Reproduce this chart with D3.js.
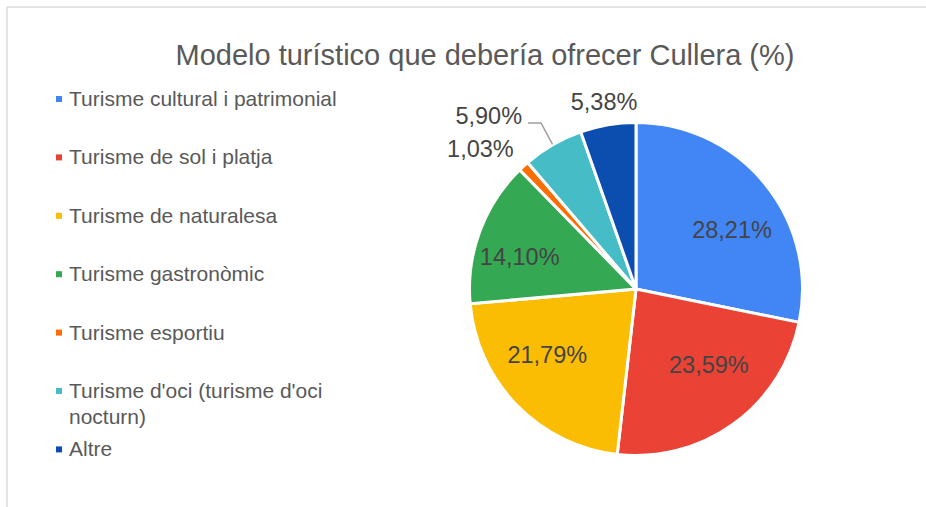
<!DOCTYPE html>
<html>
<head>
<meta charset="utf-8">
<script src="https://cdn.jsdelivr.net/npm/d3@7"></script>
<style>
  body { margin: 0; background: #fff; }
  text { font-family: Arial, "Liberation Sans", sans-serif; }
</style>
</head>
<body>
<div id="chart"></div>
<script>
// chart data
var categories = ["Turisme cultural i patrimonial", "Turisme de sol i platja", "Turisme de naturalesa",
  "Turisme gastronòmic", "Turisme esportiu", "Turisme d'oci (turisme d'oci nocturn)", "Altre"];
var values = [28.21, 23.59, 21.79, 14.10, 1.03, 5.90, 5.38];
var colors = ["#4285f4", "#ea4335", "#fbbc04", "#34a853", "#ff6d01", "#46bdc6", "#0c4db0"];
var title = "Modelo turístico que debería ofrecer Cullera (%)";

var width = 926, height = 507;
var cx = 636, cy = 289, radius = 165;

var svg = d3.select("#chart").append("svg")
  .attr("width", width)
  .attr("height", height);

// light frame (only top and left are visible in the crop)
svg.append("line").attr("x1", 7).attr("x2", width).attr("y1", 7).attr("y2", 7)
  .attr("stroke", "#dadada").attr("stroke-width", 1.5);
svg.append("line").attr("x1", 7).attr("x2", 7).attr("y1", 7).attr("y2", height)
  .attr("stroke", "#dadada").attr("stroke-width", 1.5);

svg.append("text")
  .attr("x", 485).attr("y", 65)
  .attr("text-anchor", "middle")
  .attr("font-size", "29px")
  .attr("fill", "#595959")
  .text(title);

// legend
var legend = svg.append("g").attr("transform", "translate(56,106)");
var item = legend.selectAll("g.item")
  .data(categories)
  .enter().append("g")
  .attr("class", "item")
  .attr("transform", function (d, i) { return "translate(0," + (i * 58.4) + ")"; });

item.append("rect")
  .attr("x", 0).attr("y", -10).attr("width", 6).attr("height", 6)
  .attr("fill", function (d, i) { return colors[i]; });

item.append("text")
  .attr("x", 13).attr("y", 0)
  .attr("font-size", "21px")
  .attr("fill", "#595959")
  .each(function (d) {
    // simple word wrap
    var el = d3.select(this), words = d.split(" "), line = [], lineNo = 0;
    var tspan = el.append("tspan").attr("x", 13).attr("dy", 0);
    words.forEach(function (w) {
      line.push(w);
      tspan.text(line.join(" "));
      if (tspan.node().getComputedTextLength() > 290 && line.length > 1) {
        line.pop();
        tspan.text(line.join(" "));
        line = [w];
        lineNo++;
        tspan = el.append("tspan").attr("x", 13).attr("dy", 25.6).text(w);
      }
    });
  });

// pie
var pie = d3.pie().sort(null).value(function (d) { return d; });
var arcs = pie(values);
var arc = d3.arc().innerRadius(0).outerRadius(radius + 1.5);

var g = svg.append("g").attr("transform", "translate(" + cx + "," + cy + ")");

g.selectAll("path")
  .data(arcs)
  .enter().append("path")
  .attr("d", arc)
  .attr("fill", function (d, i) { return colors[i]; })
  .attr("stroke", "#fff")
  .attr("stroke-width", 3);

var fmt = function (v) { return d3.format(".2f")(v).replace(".", ",") + "%"; };
var mid = function (d) { return (d.startAngle + d.endAngle) / 2; };

// labels inside the big slices
var inside = arcs.filter(function (d) { return d.data >= 10; });
g.selectAll("text.in")
  .data(inside)
  .enter().append("text")
  .attr("class", "in")
  .attr("x", function (d) { return 124 * Math.sin(mid(d)); })
  .attr("y", function (d) { return -94 * Math.cos(mid(d)); })
  .attr("dy", "0.35em")
  .attr("text-anchor", "middle")
  .attr("font-size", "23.5px")
  .attr("fill", "#444")
  .text(function (d) { return fmt(d.data); });

// labels outside the small slices, with a leader when they would collide
var outR = 190, fs = 23.5;
var outside = arcs.filter(function (d) { return d.data < 10; });
var placed = [];
outside.forEach(function (d) {
  var a = mid(d), s = Math.sin(a);
  var x = outR * s, y = -outR * Math.cos(a);
  var anchor = Math.abs(s) < 0.25 ? "middle" : (s < 0 ? "end" : "start");
  var w = fmt(d.data).length * fs * 0.47, h = fs * 1.15;
  var box = function (tx) {
    var x0 = anchor === "middle" ? tx - w / 2 : (anchor === "end" ? tx - w : tx);
    return { x0: x0, x1: x0 + w, y0: y - h / 2, y1: y + h / 2 };
  };
  var dir = anchor === "end" ? -1 : 1;
  var tx = anchor === "middle" ? x : x + (anchor === "end" ? 6 : -6);
  var b = box(tx);
  var hit = placed.some(function (p) {
    return b.x0 < p.x1 && b.x1 > p.x0 && b.y0 < p.y1 && b.y1 > p.y0;
  });
  var lab = g.append("text")
    .attr("text-anchor", anchor)
    .attr("font-size", fs + "px")
    .attr("fill", "#444")
    .text(fmt(d.data));
  if (hit) {
    var ex = x - dir * 0, ey = y - 1.5;
    var sx = (radius + 2) * s, sy = -(radius + 2) * Math.cos(a);
    var hx = ex + dir * 13;
    g.append("polyline")
      .attr("points", [[sx, sy], [ex, ey], [hx, ey]].map(function (p) { return p.join(","); }).join(" "))
      .attr("fill", "none")
      .attr("stroke", "#9e9e9e")
      .attr("stroke-width", 1.5);
    tx = hx + dir * 6;
    lab.attr("x", tx).attr("y", ey).attr("dy", "0.05em");
    b = box(tx);
  } else {
    lab.attr("x", tx).attr("y", y).attr("dy", "0.35em");
  }
  placed.push(b);
});
</script>
</body>
</html>
